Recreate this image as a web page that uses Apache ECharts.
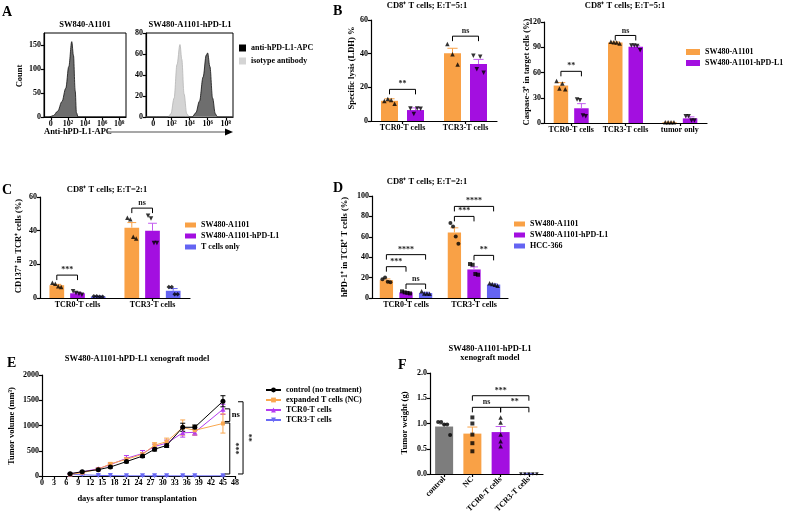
<!DOCTYPE html>
<html>
<head>
<meta charset="utf-8">
<title>Figure</title>
<script src="https://cdn.jsdelivr.net/npm/echarts@6.0.0/dist/echarts.min.js"></script>
<style>
html, body { margin: 0; padding: 0; background: #fff; }
#main { width: 787px; height: 519px; }
</style>
</head>
<body>
<div id="main"></div>
<script>
// ---------- data ----------
// A: flow histograms (x = log10 fluorescence)
var flowTicks = [0, 2, 4, 6, 8];
var flowTickText = ['0', '10²', '10⁴', '10⁶', '10⁸'];
var countTicksLeft = [0, 50, 100, 150];
var countTicksRight = [0, 20, 40, 60, 80];
var histSW840 = [[-0.8, 0], [-0.2, 0], [0.3, 3], [0.8, 12], [1.3, 32], [1.75, 60], [2.1, 105], [2.45, 157], [2.65, 128], [2.85, 55], [3.0, 9], [3.2, 0], [8.8, 0]];
var histIsotype = [[-0.8, 0], [1.6, 0], [1.95, 3], [2.3, 18], [2.62, 50], [2.95, 69], [3.15, 55], [3.4, 22], [3.7, 3], [4.0, 0], [8.8, 0]];
var histAnti = [[-0.8, 0], [4.3, 0], [4.7, 4], [5.1, 15], [5.5, 38], [5.85, 59], [6.0, 61], [6.25, 48], [6.55, 18], [6.85, 3], [7.1, 0], [8.8, 0]];

// B: LDH lysis and caspase-3
var catsTCR = ['TCR0-T cells', 'TCR3-T cells'];
var ldhA1101 = [12.0, 40.2];
var ldhA1101Err = [1.2, 3.0];
var ldhA1101Pts = [[11.9, 13.1, 12.5, 10.2], [45.7, 39.6, 33.6]];
var ldhPDL1 = [6.5, 33.9];
var ldhPDL1Err = [1.3, 2.7];
var ldhPDL1Pts = [[7.5, 4.2, 7.5, 7.3], [38.7, 30.7, 38.2, 28.7]];
var sigLDH = [['**', 0, 0, 0, 1, 18.8], ['ns', 1, 0, 1, 1, 50.4]];

var catsCas = ['TCR0-T cells', 'TCR3-T cells', 'tumor only'];
var casA1101 = [44.5, 95.5, 0.8];
var casA1101Err = [3.5, 0.8, 0.3];
var casA1101Pts = [[50, 41, 47, 40], [96.5, 96, 95.5, 94.5], [0.8, 0.8, 0.8, 0.8]];
var casPDL1 = [17.5, 90.5, 5.5];
var casPDL1Err = [5.5, 1.3, 1.8];
var casPDL1Pts = [[28, 27, 9, 8], [92, 92, 91.5, 86.5], [8, 8, 3, 3]];
var sigCas = [['**', 0, 0, 0, 1, 61.4], ['ns', 1, 0, 1, 1, 104]];

// C: CD137
var cd137A1101 = [7.6, 41.8];
var cd137A1101Err = [0.5, 3.0];
var cd137A1101Pts = [[9, 8.5, 7, 6.5], [47.6, 46.8, 36.4, 35.4]];
var cd137PDL1 = [2.8, 39.9];
var cd137PDL1Err = [0.5, 4.5];
var cd137PDL1Pts = [[4, 3, 2.5, 2], [48.8, 47.2, 32.7, 32.7]];
var cd137Tonly = [0.9, 4.3];
var cd137TonlyErr = [0.2, 1.3];
var cd137TonlyPts = [[1, 1, 0.8, 0.7], [6.5, 6.5, 2.3, 2.3]];
var sigCD137 = [['***', 0, 0, 0, 1, 13.6], ['ns', 1, 0, 1, 1, 53.4]];

// D: hPD-1
var pd1A1101 = [17.5, 64.3];
var pd1A1101Err = [1.2, 4.5];
var pd1A1101Pts = [[18.5, 20, 16, 15.5], [73.5, 70.2, 60.4, 53.2]];
var pd1PDL1 = [5.5, 28];
var pd1PDL1Err = [0.6, 2.5];
var pd1PDL1Pts = [[6.5, 5.5, 5, 4.5], [33.3, 32.6, 23.5, 22.8]];
var pd1HCC = [4.8, 13.2];
var pd1HCCErr = [0.8, 0.6];
var pd1HCCPts = [[6.5, 4.5, 4.3, 4.2], [14.5, 13.8, 13, 12]];
var sigPD1 = [['****', 0, 0, 0, 2, 42.5], ['***', 0, 0, 0, 1, 30.7], ['ns', 0, 1, 0, 2, 13.7],
  ['****', 1, 0, 1, 2, 89.8], ['***', 1, 0, 1, 1, 80], ['**', 1, 1, 1, 2, 41.8]];

// E: tumour growth
var days = [7, 10, 14, 17, 21, 25, 28, 31, 35, 38, 45];
var volControl = [46, 85, 125, 178, 285, 395, 530, 605, 965, 965, 1480];
var volNC = [30, 65, 135, 240, 330, 430, 610, 680, 960, 905, 1040];
var volTCR0 = [40, 80, 145, 225, 350, 445, 585, 650, 855, 865, 1320];
var volTCR3 = [30, 25, 12, 8, 4, 3, 3, 3, 3, 3, 3];
var errControl = [8, 10, 15, 20, 25, 30, 35, 40, 80, 45, 110];
var errNC = [5, 10, 15, 25, 35, 35, 50, 70, 150, 90, 190];
var errTCR0 = [8, 12, 20, 25, 55, 60, 45, 60, 85, 60, 100];
var errTCR3 = [5, 5, 5, 3, 2, 2, 2, 2, 2, 2, 2];
var sigVol = [['ns', 46.7, 1330, 1080], ['***', 46.7, 1050, 40], ['**', 50, 1470, 40]];

// F: tumour weight
var weightCats = ['control', 'NC', 'TCR0-T cells', 'TCR3-T cells'];
var weightMean = [0.94, 0.80, 0.83, 0.005];
var weightErr = [0.05, 0.13, 0.11, 0.001];
var weightPts = [[1.03, 1.03, 0.98, 0.98, 0.77], [1.12, 1.0, 0.78, 0.61, 0.45], [1.12, 1.02, 0.78, 0.65, 0.55], [0, 0, 0, 0, 0]];
var sigWeight = [['***', 1, 0, 3, 0, 1.55], ['ns', 1, 0, 2, 0, 1.32], ['**', 2, 0, 3, 0, 1.32]];

// ---------- styles ----------
var FONT = '"Liberation Serif", "Times New Roman", serif';
var ORANGE = '#f9a146', PURPLE = '#a30fe0', PURPLE_ERR = '#c35cf0', BLUE = '#6464f2', GRAY = '#7d7d7d';
var lineSt = {color: '#000', width: 1.2};

function labelSt(extra) {
  return Object.assign({show: true, color: '#000', fontFamily: FONT, fontWeight: 'bold', fontSize: 8, margin: 3}, extra || {});
}
function xCat(gi, cats, lab) {
  return {type: 'category', gridIndex: gi, data: cats, boundaryGap: true,
    axisLine: {show: true, onZero: false, lineStyle: lineSt},
    axisTick: {show: true, alignWithLabel: true, length: 3, lineStyle: lineSt},
    axisLabel: labelSt(Object.assign({interval: 0}, lab || {})),
    splitLine: {show: false}};
}
function yVal(gi, min, max, interval, lab) {
  return {type: 'value', gridIndex: gi, min: min, max: max, interval: interval,
    axisLine: {show: true, onZero: false, lineStyle: lineSt},
    axisTick: {show: true, length: 3, lineStyle: lineSt},
    axisLabel: labelSt(Object.assign({formatter: function (v) { return String(v); }}, lab || {})),
    splitLine: {show: false}};
}
function yCount(gi, max, ticks) {
  return {type: 'value', gridIndex: gi, min: 0, max: max,
    axisLine: {show: true, onZero: false, lineStyle: lineSt},
    axisTick: {show: true, length: 3, lineStyle: lineSt, customValues: ticks},
    axisLabel: labelSt({customValues: ticks, formatter: function (v) { return String(v); }}),
    splitLine: {show: false}};
}
function xFlow(gi) {
  return {type: 'value', gridIndex: gi, min: -0.8, max: 8.8,
    axisLine: {show: true, onZero: false, lineStyle: lineSt},
    axisTick: {show: true, length: 3, lineStyle: lineSt, customValues: flowTicks},
    axisLabel: labelSt({customValues: flowTicks, formatter: function (v) { return flowTickText[flowTicks.indexOf(v)]; }}),
    splitLine: {show: false}};
}

var grids = [
  {left: 44, top: 33, width: 82, height: 84, show: true, borderColor: '#000', borderWidth: 1},
  {left: 146, top: 33, width: 87, height: 84, show: true, borderColor: '#000', borderWidth: 1},
  {left: 371, top: 20, width: 126, height: 101},
  {left: 544, top: 22, width: 163, height: 101},
  {left: 40, top: 197, width: 150, height: 101},
  {left: 372, top: 196, width: 136, height: 102},
  {left: 42, top: 375, width: 193, height: 101},
  {left: 430, top: 373, width: 113, height: 101}
];
grids.forEach(function (g) { g.outerBoundsMode = 'none'; g.containLabel = false; });

var xAxes = [
  xFlow(0), xFlow(1),
  xCat(2, catsTCR), xCat(3, catsCas), xCat(4, catsTCR), xCat(5, catsTCR),
  {type: 'value', gridIndex: 6, min: 0, max: 48, interval: 3,
    axisLine: {show: true, onZero: false, lineStyle: lineSt},
    axisTick: {show: true, length: 3, lineStyle: lineSt},
    axisLabel: labelSt(), splitLine: {show: false}},
  xCat(7, weightCats, {rotate: 45, margin: 4})
];
var yAxes = [
  yCount(0, 175, countTicksLeft), yCount(1, 80, countTicksRight),
  yVal(2, 0, 60, 20), yVal(3, 0, 120, 30), yVal(4, 0, 60, 20), yVal(5, 0, 100, 20),
  yVal(6, 0, 2000, 500),
  yVal(7, 0, 2, 0.5, {formatter: function (v) { return v.toFixed(1); }})
];

var series = [];

// ---------- helpers ----------
function errSeries(gi, xs, vals, errs, off, color, cap, both) {
  return {type: 'custom', xAxisIndex: gi, yAxisIndex: gi, z: 3, silent: true,
    data: vals.map(function (v, i) { return [xs ? xs[i] : i, v, errs[i]]; }),
    renderItem: function (p, api) {
      var x = api.value(0), v = api.value(1), e = api.value(2);
      var t = api.coord([x, v + e]), b = api.coord([x, both ? v - e : v]);
      var cx = t[0] + off;
      var st = {stroke: color, lineWidth: 1};
      var ch = [
        {type: 'line', shape: {x1: cx, y1: t[1], x2: cx, y2: b[1]}, style: st},
        {type: 'line', shape: {x1: cx - cap, y1: t[1], x2: cx + cap, y2: t[1]}, style: st}
      ];
      if (both) ch.push({type: 'line', shape: {x1: cx - cap, y1: b[1], x2: cx + cap, y2: b[1]}, style: st});
      return {type: 'group', children: ch};
    }};
}
function ptsData(cat, list, off, spread) {
  return list.map(function (v, k) {
    var dx = list.length > 1 ? (k - (list.length - 1) / 2) * spread / (list.length - 1) : 0;
    return {value: [cat, v], symbolOffset: [off + dx, 0]};
  });
}
function scatterSeries(gi, data, symbol, rot, size) {
  return {type: 'scatter', xAxisIndex: gi, yAxisIndex: gi, data: data, symbol: symbol,
    symbolSize: size || 4.5, symbolRotate: rot || 0, itemStyle: {color: '#000'}, z: 4, silent: true};
}
function textEl(x, y, s, size, align, vAlign, rot, color) {
  return {type: 'text', x: x, y: y, rotation: rot || 0, silent: true,
    style: {text: s, fill: color || '#000', font: 'bold ' + size + 'px ' + FONT,
      align: align || 'center', verticalAlign: vAlign || 'middle',
      textAlign: align || 'center', textVerticalAlign: vAlign || 'middle'}};
}
function sigSeries(gi, sigs, offs) {
  return {type: 'custom', xAxisIndex: gi, yAxisIndex: gi, z: 5, silent: true,
    data: sigs.map(function (s) { return [s[1], s[5]]; }),
    renderItem: function (p, api) {
      var s = sigs[p.dataIndex];
      var a = api.coord([s[1], s[5]]), b = api.coord([s[3], s[5]]);
      var x1 = a[0] + offs[s[2]], x2 = b[0] + offs[s[4]], y = a[1];
      return {type: 'group', children: [
        {type: 'polyline', shape: {points: [[x1, y + 5], [x1, y], [x2, y], [x2, y + 5]]}, style: {stroke: '#000', lineWidth: 1, fill: 'none'}},
        textEl((x1 + x2) / 2, y - 1, s[0], 8, 'center', 'bottom', 0, '#222')
      ]};
    }};
}
function barPanel(gi, groups, bw, gap, sigs) {
  var n = groups.length, total = n * bw + (n - 1) * gap;
  var offs = groups.map(function (g, i) { return -total / 2 + i * (bw + gap) + bw / 2; });
  groups.forEach(function (g, i) {
    series.push({type: 'bar', name: g.name, xAxisIndex: gi, yAxisIndex: gi, data: g.vals,
      barWidth: bw, barGap: (gap / bw * 100) + '%', itemStyle: {color: g.color}, z: 2, silent: true});
    series.push(errSeries(gi, null, g.vals, g.errs, offs[i], g.errColor || g.color, bw * 0.3, false));
    var data = [];
    g.pts.forEach(function (list, c) { data = data.concat(ptsData(c, list, offs[i], bw * 0.6)); });
    series.push(scatterSeries(gi, data, g.symbol, g.rot, g.size));
  });
  if (sigs) series.push(sigSeries(gi, sigs, offs));
}

// ---------- A ----------
series.push({type: 'line', name: 'anti-hPD-L1-APC', xAxisIndex: 0, yAxisIndex: 0, data: histSW840, smooth: 0.35, smoothMonotone: 'x',
  showSymbol: false, symbol: 'none', lineStyle: {color: '#111', width: 0.8}, areaStyle: {color: '#6e6e6e', opacity: 1}, silent: true});
series.push({type: 'line', name: 'isotype antibody', xAxisIndex: 1, yAxisIndex: 1, data: histIsotype, smooth: 0.35, smoothMonotone: 'x',
  showSymbol: false, symbol: 'none', lineStyle: {color: '#b5b5b5', width: 0.8}, areaStyle: {color: '#d4d4d4', opacity: 1}, silent: true});
series.push({type: 'line', name: 'anti-hPD-L1-APC', xAxisIndex: 1, yAxisIndex: 1, data: histAnti, smooth: 0.35, smoothMonotone: 'x',
  showSymbol: false, symbol: 'none', lineStyle: {color: '#111', width: 0.8}, areaStyle: {color: '#6e6e6e', opacity: 1}, silent: true});

// ---------- B ----------
barPanel(2, [
  {name: 'SW480-A1101', color: ORANGE, vals: ldhA1101, errs: ldhA1101Err, pts: ldhA1101Pts, symbol: 'triangle'},
  {name: 'SW480-A1101-hPD-L1', color: PURPLE, errColor: PURPLE_ERR, vals: ldhPDL1, errs: ldhPDL1Err, pts: ldhPDL1Pts, symbol: 'triangle', rot: 180}
], 17, 9, sigLDH);
barPanel(3, [
  {name: 'SW480-A1101', color: ORANGE, vals: casA1101, errs: casA1101Err, pts: casA1101Pts, symbol: 'triangle'},
  {name: 'SW480-A1101-hPD-L1', color: PURPLE, errColor: PURPLE_ERR, vals: casPDL1, errs: casPDL1Err, pts: casPDL1Pts, symbol: 'triangle', rot: 180}
], 14.5, 6, sigCas);

// ---------- C ----------
barPanel(4, [
  {name: 'SW480-A1101', color: ORANGE, vals: cd137A1101, errs: cd137A1101Err, pts: cd137A1101Pts, symbol: 'triangle'},
  {name: 'SW480-A1101-hPD-L1', color: PURPLE, errColor: PURPLE_ERR, vals: cd137PDL1, errs: cd137PDL1Err, pts: cd137PDL1Pts, symbol: 'triangle', rot: 180},
  {name: 'T cells only', color: BLUE, vals: cd137Tonly, errs: cd137TonlyErr, pts: cd137TonlyPts, symbol: 'diamond'}
], 14.7, 6, sigCD137);

// ---------- D ----------
barPanel(5, [
  {name: 'SW480-A1101', color: ORANGE, vals: pd1A1101, errs: pd1A1101Err, pts: pd1A1101Pts, symbol: 'circle', size: 4},
  {name: 'SW480-A1101-hPD-L1', color: PURPLE, errColor: PURPLE_ERR, vals: pd1PDL1, errs: pd1PDL1Err, pts: pd1PDL1Pts, symbol: 'rect', size: 4},
  {name: 'HCC-366', color: BLUE, vals: pd1HCC, errs: pd1HCCErr, pts: pd1HCCPts, symbol: 'triangle'}
], 13.3, 6.3, sigPD1);

// ---------- E ----------
var eGroups = [
  {name: 'TCR3-T cells', vals: volTCR3, errs: errTCR3, color: '#6a6af5', symbol: 'triangle', size: 5, rot: 180},
  {name: 'TCR0-T cells', vals: volTCR0, errs: errTCR0, color: '#b43cf0', symbol: 'triangle', size: 5},
  {name: 'expanded T cells (NC)', vals: volNC, errs: errNC, color: '#f9a74f', symbol: 'rect', size: 4},
  {name: 'control (no treatment)', vals: volControl, errs: errControl, color: '#000', symbol: 'circle', size: 5}
];
eGroups.forEach(function (g, i) {
  series.push(errSeries(6, days, g.vals, g.errs, 0, g.color, 2.5, true));
  series.push({type: 'line', name: g.name, xAxisIndex: 6, yAxisIndex: 6, z: 4 + i, silent: true,
    data: days.map(function (d, k) { return [d, g.vals[k]]; }),
    symbol: g.symbol, symbolSize: g.size, symbolRotate: g.rot || 0, showSymbol: true,
    lineStyle: {color: g.color, width: 1}, itemStyle: {color: g.color}});
});
series.push({type: 'custom', xAxisIndex: 6, yAxisIndex: 6, z: 9, silent: true,
  data: sigVol.map(function (s) { return [s[1], s[2]]; }),
  renderItem: function (p, api) {
    var s = sigVol[p.dataIndex];
    var a = api.coord([s[1], s[2]]), b = api.coord([s[1], s[3]]);
    var x = a[0];
    var ch = [{type: 'polyline', shape: {points: [[x - 5, a[1]], [x, a[1]], [x, b[1]], [x - 5, b[1]]]}, style: {stroke: '#000', lineWidth: 1, fill: 'none'}}];
    if (s[0] === 'ns') ch.push(textEl(x + 2, (a[1] + b[1]) / 2, s[0], 8.5, 'left', 'middle', 0, '#000'));
    else ch.push(textEl(x + 5, (a[1] + b[1]) / 2, s[0], 8, 'center', 'middle', -Math.PI / 2, '#222'));
    return {type: 'group', children: ch};
  }});

// ---------- F ----------
var fColors = [GRAY, ORANGE, PURPLE, BLUE];
var fErrColors = [GRAY, ORANGE, PURPLE_ERR, BLUE];
var fSymbols = [['circle', 0, 4, 12], ['rect', 0, 4, 0], ['triangle', 0, 4.5, 0], ['triangle', 180, 3.5, 16]];
series.push({type: 'bar', xAxisIndex: 7, yAxisIndex: 7, barWidth: 18, silent: true, z: 2,
  data: weightMean.map(function (v, i) { return {value: v, itemStyle: {color: fColors[i]}}; })});
weightMean.forEach(function (v, i) {
  series.push(errSeries(7, [i], [v], [weightErr[i]], 0, fErrColors[i], 5, false));
  var sy = fSymbols[i];
  series.push(scatterSeries(7, ptsData(i, weightPts[i], 0, sy[3]), sy[0], sy[1], sy[2]));
});
series.push(sigSeries(7, sigWeight, [0]));

// ---------- text and decorations ----------
var graphics = [
  textEl(2, 12, 'A', 14, 'left'), textEl(333, 11, 'B', 14, 'left'), textEl(2, 190, 'C', 14, 'left'),
  textEl(333, 188, 'D', 14, 'left'), textEl(7, 363, 'E', 14, 'left'), textEl(398, 365, 'F', 14, 'left'),
  textEl(85, 25, 'SW840-A1101', 8.5), textEl(190, 25, 'SW480-A1101-hPD-L1', 8.5),
  textEl(427, 6, 'CD8⁺ T cells; E:T=5:1', 8.5), textEl(625, 6, 'CD8⁺ T cells; E:T=5:1', 8.5),
  textEl(107, 190, 'CD8⁺ T cells; E:T=2:1', 8.5), textEl(427, 182, 'CD8⁺ T cells; E:T=2:1', 8.5),
  textEl(137, 359, 'SW480-A1101-hPD-L1 xenograft model', 8.5),
  textEl(490, 349, 'SW480-A1101-hPD-L1', 8.5), textEl(490, 358, 'xenograft model', 8.5),
  textEl(20, 76, 'Count', 8.5, 'center', 'middle', Math.PI / 2),
  textEl(352, 68, 'Specific lysis (LDH) %', 8.5, 'center', 'middle', Math.PI / 2),
  textEl(527, 72, 'Caspase-3⁺ in target cells (%)', 8.5, 'center', 'middle', Math.PI / 2),
  textEl(19, 246, 'CD137⁺ in TCR⁺ cells (%)', 8.5, 'center', 'middle', Math.PI / 2),
  textEl(345, 247, 'hPD-1⁺ in TCR⁺ T cells (%)', 8.5, 'center', 'middle', Math.PI / 2),
  textEl(12, 426, 'Tumor volume (mm³)', 8.5, 'center', 'middle', Math.PI / 2),
  textEl(405, 423, 'Tumor weight (g)', 8.5, 'center', 'middle', Math.PI / 2),
  textEl(44, 132, 'Anti-hPD-L1-APC', 8.5, 'left'),
  textEl(137, 499, 'days after tumor transplantation', 8.5),
  {type: 'line', silent: true, shape: {x1: 108, y1: 132, x2: 226, y2: 132}, style: {stroke: '#8a8a8a', lineWidth: 1.5}},
  {type: 'polygon', silent: true, shape: {points: [[225, 128.5], [233, 132], [225, 135.5]]}, style: {fill: '#000'}}
];

function legendOf(left, top, gap, iw, ih, data) {
  return {left: left, top: top, orient: 'vertical', padding: 0, itemGap: gap, itemWidth: iw, itemHeight: ih,
    selectedMode: false, textStyle: {color: '#000', fontFamily: FONT, fontWeight: 'bold', fontSize: 8}, data: data};
}
var legends = [
  legendOf(239, 44, 5, 7, 7, [{name: 'anti-hPD-L1-APC', icon: 'rect', itemStyle: {color: '#000'}},
    {name: 'isotype antibody', icon: 'rect', itemStyle: {color: '#d4d4d4'}}]),
  legendOf(686, 48, 3, 14, 6, [{name: 'SW480-A1101', icon: 'rect'}, {name: 'SW480-A1101-hPD-L1', icon: 'rect'}]),
  legendOf(185, 221, 3, 11, 5, [{name: 'SW480-A1101', icon: 'rect'}, {name: 'SW480-A1101-hPD-L1', icon: 'rect'}, {name: 'T cells only', icon: 'rect'}]),
  legendOf(514, 220, 3, 11, 5, [{name: 'SW480-A1101', icon: 'rect'}, {name: 'SW480-A1101-hPD-L1', icon: 'rect'}, {name: 'HCC-366', icon: 'rect'}]),
  legendOf(265, 386, 2, 15, 6, ['control (no treatment)', 'expanded T cells (NC)', 'TCR0-T cells', 'TCR3-T cells'])
];

var myChart = echarts.init(document.getElementById('main'), null, {renderer: 'canvas'});
myChart.setOption({
  animation: false,
  backgroundColor: '#fff',
  tooltip: {show: false},
  grid: grids,
  xAxis: xAxes,
  yAxis: yAxes,
  legend: legends,
  graphic: graphics,
  series: series
});
</script>
</body>
</html>
